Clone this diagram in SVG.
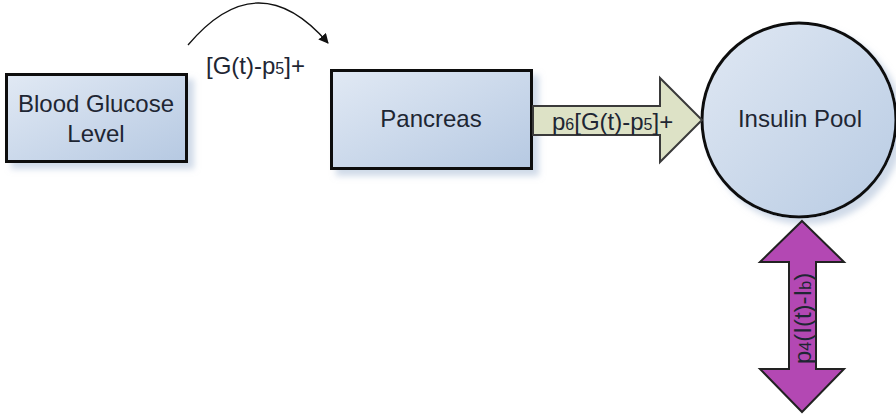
<svg xmlns="http://www.w3.org/2000/svg" width="896" height="416" viewBox="0 0 896 416">
  <defs>
    <linearGradient id="boxFill" x1="0" y1="0" x2="1" y2="1">
      <stop offset="0" stop-color="#E1E9F4"/>
      <stop offset="1" stop-color="#B6C9E2"/>
    </linearGradient>
    <linearGradient id="poolFill" x1="0" y1="0" x2="1" y2="1">
      <stop offset="0" stop-color="#E0E8F3"/>
      <stop offset="1" stop-color="#B8CBE3"/>
    </linearGradient>
    <filter id="shadow" x="-20%" y="-20%" width="140%" height="140%">
      <feGaussianBlur in="SourceAlpha" stdDeviation="3"/>
      <feOffset dx="6" dy="6" result="off"/>
      <feFlood flood-color="#A9BCD6" flood-opacity="0.55"/>
      <feComposite in2="off" operator="in"/>
      <feMerge>
        <feMergeNode/>
        <feMergeNode in="SourceGraphic"/>
      </feMerge>
    </filter>
    <marker id="tip" viewBox="0 0 10 10" refX="9" refY="5" markerWidth="10" markerHeight="10" markerUnits="userSpaceOnUse" orient="auto">
      <path d="M0,0 L10,5 L0,10 z" fill="#111"/>
    </marker>
    <style>
      .box { fill: url(#boxFill); stroke: #111; stroke-width: 3; }
      .pool { fill: url(#poolFill); stroke: #111; stroke-width: 3; }
      .label { font-family: "Liberation Sans", Arial, sans-serif; font-size: 24px; fill: #1E2633; }
      .sub { font-size: 16px; }
      .flow { fill: #DDE2C6; stroke: #3A3A3A; stroke-width: 2; }
      .exchange { fill: #B348B3; stroke: #222; stroke-width: 2; }
      .curve { fill: none; stroke: #111; stroke-width: 1.3; }
    </style>
  </defs>

  <rect width="896" height="416" fill="#FFFFFF"/>

  <!-- blood glucose node -->
  <g id="blood-glucose">
    <rect class="box" x="6.5" y="74.5" width="180" height="87" filter="url(#shadow)"/>
    <text class="label" x="96" y="112" text-anchor="middle">Blood Glucose</text>
    <text class="label" x="96" y="142" text-anchor="middle">Level</text>
  </g>

  <!-- pancreas node -->
  <g id="pancreas">
    <rect class="box" x="331.5" y="70.5" width="200" height="98" filter="url(#shadow)"/>
    <text class="label" x="431" y="127" text-anchor="middle">Pancreas</text>
  </g>

  <!-- insulin pool node -->
  <g id="insulin-pool">
    <circle class="pool" cx="799" cy="120" r="97" filter="url(#shadow)"/>
    <text class="label" x="800" y="127" text-anchor="middle">Insulin Pool</text>
  </g>

  <g id="connectors">
    <!-- glucose signal to pancreas -->
    <path class="curve" d="M188,45 Q258,-38 328,43" marker-end="url(#tip)"/>
    <text class="label" x="206" y="74">[G(t)-p<tspan class="sub">5</tspan>]+</text>

    <!-- insulin secretion into pool -->
    <path class="flow" d="M533,106 L660,106 L660,78 L702,120 L660,162 L660,135 L533,135 Z"/>
    <text class="label" x="552" y="130" font-size="25">p<tspan class="sub">6</tspan>[G(t)-p<tspan class="sub">5</tspan>]+</text>

    <!-- insulin exchange below pool -->
    <path class="exchange" d="M802,221 L844,262 L816,262 L816,369 L844,369 L802,412 L760,369 L789,369 L789,262 L760,262 Z"/>
    <text class="label" transform="translate(811,364) rotate(-90)">p<tspan class="sub">4</tspan>(I(t)-I<tspan class="sub">b</tspan>)</text>
  </g>
</svg>
